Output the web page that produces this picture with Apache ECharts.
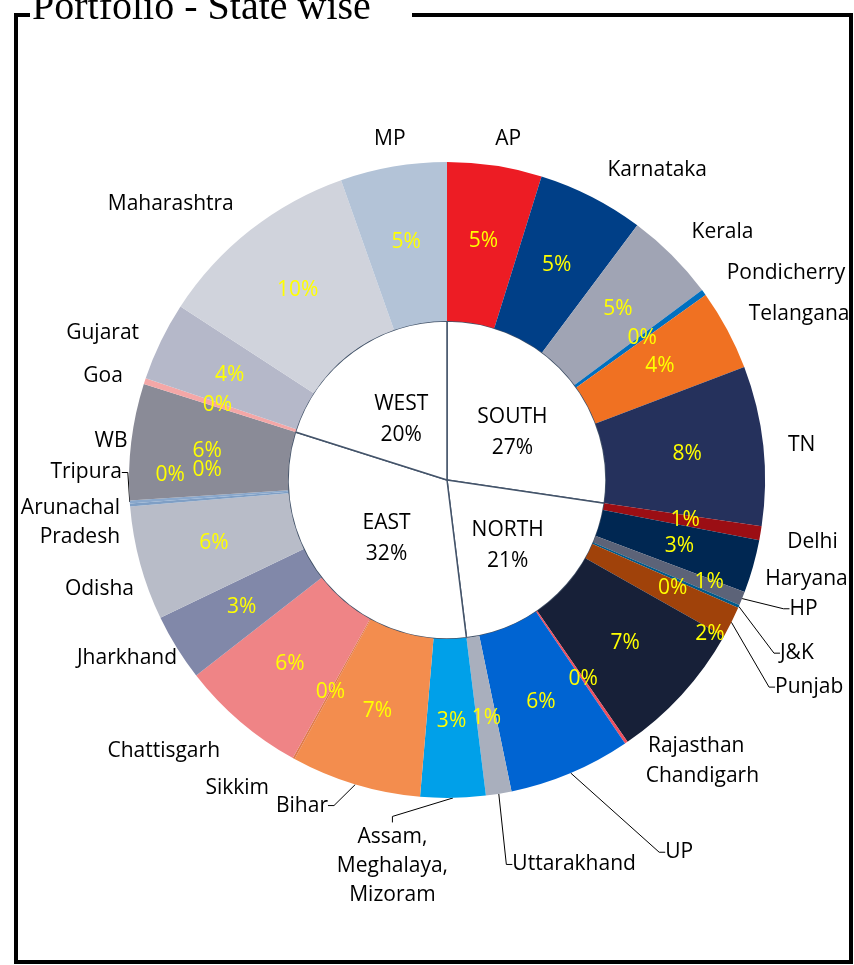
<!DOCTYPE html>
<html><head><meta charset="utf-8">
<script src="https://cdn.jsdelivr.net/npm/echarts@6/dist/echarts.min.js"></script>
<style>html,body{margin:0;padding:0;background:#fff}#c{width:854px;height:965px}</style>
</head><body><div id="c"></div>
<script>
// ---- data ----
const states = ['AP','Karnataka','Kerala','Pondicherry','Telangana','TN',
  'Delhi','Haryana','HP','J&K','Punjab','Rajasthan','Chandigarh','UP','Uttarakhand',
  'Assam,\nMeghalaya,\nMizoram','Bihar','Sikkim','Chattisgarh','Jharkhand','Odisha','Arunachal\nPradesh','Tripura','WB',
  'Goa','Gujarat','Maharashtra','MP'];
const stateValues = [4.8,5.4,4.6,0.3,4.1,8.1,
  0.7,2.7,0.7,0.15,1.6,7.2,0.15,6.2,1.3,
  3.3,6.6,0.1,6.4,3.4,5.8,0.15,0.15,5.9,
  0.3,4.0,10.4,5.4];
const regions = ['SOUTH','NORTH','EAST','WEST'];
const regionValues = [27.3,20.7,31.8,20.1];
const title = 'Portfolio - State wise';

// ---- style ----
const stateColors = ['#ED1C24','#003F87','#A0A4B4','#0070C0','#F07122','#25315C',
  '#9B0E14','#002752','#5C6378','#005A8A','#A0420A','#172038','#EE5060','#0064D2','#A9AFBD',
  '#00A0E9','#F38D4E','#E07A4A','#EF8486','#8188A9','#B8BCC8','#7F9FC5','#8AA8CC','#8A8B97',
  '#F4A7A7','#B5B8C9','#D0D3DC','#B3C3D7'];
const leaderNames = ['HP','J&K','Punjab','UP','Uttarakhand','Assam,\nMeghalaya,\nMizoram','Bihar','Tripura'];
// label nudges (dx, dy, optional align) applied to the library-computed label anchors
const nameShift = {
  'MP': [27, -6], 'AP': [-14, -5], 'Karnataka': [-5, -7], 'Kerala': [-7, -8], 'Pondicherry': [-6, -7],
  'Telangana': [-9, -5], 'TN': [-8, 2], 'Delhi': [-6, 5], 'Haryana': [-20, 7], 'HP': [16, 2],
  'J&K': [10, 38], 'Punjab': [13, 55], 'Rajasthan': [-61, 37], 'Chandigarh': [-4, 15], 'UP': [75, 59],
  'Uttarakhand': [-1, 49], 'Assam,\nMeghalaya,\nMizoram': [-72, 46, 'center'], 'Bihar': [-10, 0],
  'Sikkim': [-3, 10], 'Chattisgarh': [5, 13], 'Jharkhand': [30, -1], 'Odisha': [26, 20],
  'Arunachal\nPradesh': [23, 16], 'Tripura': [25, -31], 'WB': [29, 2], 'Goa': [10, 2],
  'Gujarat': [9, 1], 'Maharashtra': [8, -9]
};
const pctShift = {'Punjab': [47, 46], 'HP': [38, 12], 'J&K': [4, 12], 'Arunachal\nPradesh': [-36, -24], 'Tripura': [1, -27]};
const FONT = 'Open Sans';
const CX = 447, CY = 480, R0 = 159, R1 = 318;

function shifted(names, map, defShift) {
  return function (p) {
    const r = p.labelRect;
    let ax = r.x, ay = r.y + r.height / 2;
    if (p.align === 'right') ax = r.x + r.width;
    else if (p.align === 'center') ax = r.x + r.width / 2;
    if (p.verticalAlign === 'top') ay = r.y;
    else if (p.verticalAlign === 'bottom') ay = r.y + r.height;
    const s = (names && map[names[p.dataIndex]]) || defShift || [0, 0];
    return {x: ax + s[0], y: ay + s[1], align: s[2] || p.align, verticalAlign: p.verticalAlign, hideOverlap: false, moveOverlap: null};
  };
}

const chart = echarts.init(document.getElementById('c'), null, {renderer: 'canvas'});

chart.setOption({
  backgroundColor: '#ffffff',
  animation: false,
  graphic: [
    {type: 'text', left: 32, top: -12, style: {text: title, font: '40px "Liberation Serif"', fill: '#000'}},
    {type: 'polyline', shape: {points: [[412, 15], [851, 15], [851, 962], [16, 962], [16, 15], [30, 15]]},
     style: {stroke: '#000', lineWidth: 4, fill: null}}
  ],
  series: [
    {
      type: 'pie', name: 'regions', center: [CX, CY], radius: [0, R0],
      startAngle: 90, clockwise: true, silent: true,
      itemStyle: {color: '#ffffff', borderColor: '#44546A', borderWidth: 1.5},
      label: {position: 'inside', color: '#000', fontFamily: FONT, fontSize: 21, lineHeight: 31,
        formatter: p => p.name + '\n' + Math.round(p.percent) + '%'},
      labelLine: {show: false},
      labelLayout: shifted(null, {}, [3, 6]),
      emphasis: {disabled: true},
      data: regions.map((r, i) => ({name: r, value: regionValues[i]}))
    },
    {
      type: 'pie', name: 'states', center: [CX, CY], radius: [R0, R1],
      startAngle: 90, clockwise: true, silent: true,
      itemStyle: {borderWidth: 0},
      label: {position: 'inside', color: '#FFFF00', fontFamily: FONT, fontSize: 21,
        formatter: p => Math.round(p.percent) + '%'},
      labelLine: {show: false},
      labelLayout: shifted(states, pctShift),
      emphasis: {disabled: true},
      data: states.map((s, i) => ({name: s, value: stateValues[i], itemStyle: {color: stateColors[i]}}))
    },
    {
      type: 'pie', name: 'names', center: [CX, CY], radius: [R0, R1],
      startAngle: 90, clockwise: true, silent: true, avoidLabelOverlap: false,
      itemStyle: {color: 'rgba(0,0,0,0)'},
      label: {position: 'outside', color: '#000', fontFamily: FONT, fontSize: 21, lineHeight: 29,
        formatter: p => p.name},
      labelLine: {length: 22, length2: 6, lineStyle: {color: '#000', width: 1}},
      labelLayout: shifted(states, nameShift),
      emphasis: {disabled: true},
      data: states.map((s, i) => ({name: s, value: stateValues[i], labelLine: {show: leaderNames.indexOf(s) >= 0}}))
    }
  ]
});
</script>
</body></html>
